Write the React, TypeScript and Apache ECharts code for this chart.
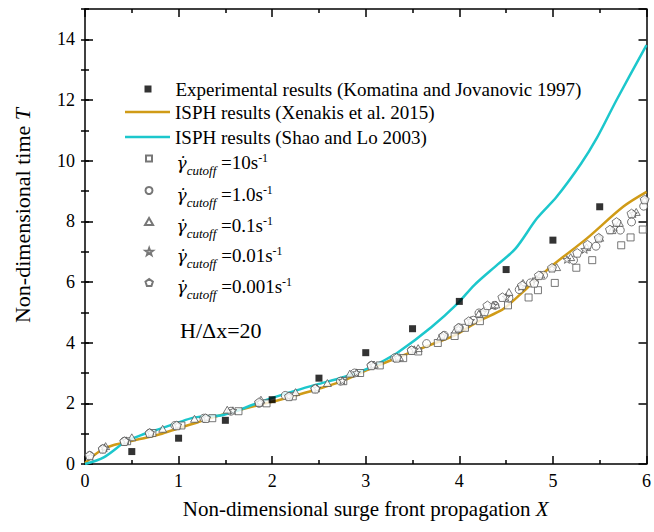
import React, { useEffect, useRef } from "react";
import * as echarts from "echarts";

const FONT = "'Liberation Serif', 'Times New Roman', Times, serif";
const ORANGE = "#D09B17";
const CYAN = "#1CC7CC";
const MARK = "#555555";

// Experimental results (Komatina and Jovanovic 1997)
const expX = [0.5, 1.0, 1.5, 2.0, 2.5, 3.0, 3.5, 4.0, 4.5, 5.0, 5.5];
const expT = [0.41, 0.85, 1.44, 2.12, 2.83, 3.67, 4.46, 5.36, 6.41, 7.38, 8.48];

// ISPH results (Xenakis et al. 2015)
const xenakis: [number, number][] = [
  [0, 0.03], [0.1, 0.3], [0.2, 0.5], [0.3, 0.62], [0.44, 0.72], [0.6, 0.83], [0.8, 0.98],
  [1.0, 1.18], [1.2, 1.37], [1.5, 1.66], [1.75, 1.86], [2.0, 2.05], [2.25, 2.26], [2.5, 2.48],
  [2.75, 2.73], [3.0, 3.08], [3.35, 3.52], [3.65, 3.88], [3.95, 4.24], [4.19, 4.68], [4.46, 5.09],
  [4.55, 5.31], [4.73, 5.82], [5.0, 6.56], [5.36, 7.43], [5.75, 8.48], [6.0, 8.97],
];

// ISPH results (Shao and Lo 2003)
const shaoLo: [number, number][] = [
  [0, 0], [0.2, 0.22], [0.44, 0.75], [0.6, 0.95], [0.8, 1.16], [1.0, 1.37], [1.15, 1.52],
  [1.3, 1.57], [1.45, 1.6], [1.6, 1.73], [1.8, 1.96], [2.0, 2.18], [2.25, 2.42], [2.5, 2.64],
  [2.75, 2.85], [3.0, 3.12], [3.2, 3.42], [3.35, 3.69], [3.7, 4.51], [3.98, 5.29], [4.16, 5.9],
  [4.41, 6.58], [4.6, 7.1], [4.83, 8.1], [5.04, 8.81], [5.3, 9.9], [5.47, 10.75], [5.68, 12.0],
  [6.0, 13.81],
];

// gamma_cutoff = 10 s^-1
const cutoff10: [number, number][] = [
  [0.45, 0.75], [0.72, 1.02], [1.03, 1.27], [1.36, 1.51], [1.64, 1.74], [1.94, 2.0], [2.22, 2.23],
  [2.76, 2.73], [2.94, 3.0], [3.15, 3.25], [3.4, 3.49], [3.56, 3.71], [3.77, 3.99], [3.95, 4.22],
  [4.06, 4.49], [4.22, 4.71], [4.52, 5.23], [4.74, 5.49], [4.84, 5.73], [5.02, 5.97], [5.25, 6.47],
  [5.42, 6.72], [5.73, 7.21], [5.83, 7.47], [5.96, 7.73],
];
// gamma_cutoff = 1.0 s^-1
const cutoff1: [number, number][] = [
  [0.05, 0.28], [0.19, 0.5], [0.42, 0.75], [0.69, 1.02], [0.96, 1.27], [1.27, 1.51], [1.56, 1.74],
  [1.86, 2.0], [2.14, 2.26], [2.46, 2.48], [2.73, 2.73], [2.88, 3.0], [3.06, 3.25], [3.31, 3.5],
  [3.49, 3.75], [3.65, 3.97], [3.84, 4.24], [4.0, 4.49], [4.15, 4.74], [4.21, 4.98], [4.38, 5.23],
  [4.53, 5.47], [4.64, 5.75], [4.76, 5.97], [4.9, 6.22], [5.22, 6.72], [5.46, 7.18], [5.72, 7.71],
  [5.84, 7.98], [5.97, 8.5],
];
// gamma_cutoff = 0.1 s^-1
const cutoff01: [number, number][] = [
  [0.22, 0.59], [0.5, 0.88], [0.83, 1.16], [1.17, 1.49], [1.52, 1.79], [1.88, 2.12], [2.25, 2.37],
  [2.59, 2.67], [2.83, 2.98], [3.09, 3.28], [3.36, 3.52], [3.56, 3.82], [3.8, 4.2], [3.96, 4.43],
  [4.21, 4.96], [4.39, 5.26], [4.53, 5.67], [4.68, 5.97], [4.87, 6.25], [5.04, 6.49], [5.19, 6.82],
  [5.36, 7.15], [5.5, 7.46], [5.63, 7.71], [5.71, 7.95], [5.89, 8.31],
];
// gamma_cutoff = 0.01 s^-1
const cutoff001: [number, number][] = [
  [0.06, 0.25], [0.21, 0.53], [0.44, 0.77], [0.7, 1.03], [0.99, 1.28], [1.3, 1.52], [1.58, 1.76],
  [1.87, 2.03], [2.18, 2.24], [2.48, 2.5], [2.75, 2.75], [2.9, 3.01], [3.08, 3.26], [3.34, 3.51],
  [3.52, 3.77], [3.82, 4.22], [3.99, 4.47], [4.12, 4.73], [4.25, 5.0], [4.36, 5.23], [4.5, 5.5],
  [4.66, 5.85], [4.82, 6.1], [4.99, 6.45], [5.15, 6.74], [5.34, 7.07], [5.49, 7.45], [5.66, 7.8],
  [5.86, 8.25], [5.98, 8.7],
];
// gamma_cutoff = 0.001 s^-1
const cutoff0001: [number, number][] = [
  [0.05, 0.28], [0.19, 0.5], [0.42, 0.75], [0.69, 1.02], [0.98, 1.27], [1.29, 1.51], [1.86, 2.04],
  [2.18, 2.23], [2.46, 2.48], [3.06, 3.25], [3.33, 3.5], [3.49, 3.75], [3.83, 4.23], [3.99, 4.49],
  [4.1, 4.71], [4.27, 5.03], [4.3, 5.23], [4.46, 5.5], [4.67, 5.89], [4.8, 5.97], [4.85, 6.22],
  [4.99, 6.47], [5.26, 6.96], [5.37, 7.23], [5.49, 7.46], [5.61, 7.73], [5.68, 7.98], [5.84, 8.26],
  [5.98, 8.72],
];

const NAME_EXP = "Experimental results (Komatina and Jovanovic 1997)";
const NAME_XEN = "ISPH results (Xenakis et al. 2015)";
const NAME_SHAO = "ISPH results (Shao and Lo 2003)";
const G = "\u03b3\u0307";
const NAME_10 = G + "cutoff =10s-1";
const NAME_1 = G + "cutoff =1.0s-1";
const NAME_01 = G + "cutoff =0.1s-1";
const NAME_001 = G + "cutoff =0.01s-1";
const NAME_0001 = G + "cutoff =0.001s-1";

const gammaLabel: Record<string, string> = {
  [NAME_10]: "{g|" + G + "}{s|cutoff}{n| =10s}{p|-1}",
  [NAME_1]: "{g|" + G + "}{s|cutoff}{n| =1.0s}{p|-1}",
  [NAME_01]: "{g|" + G + "}{s|cutoff}{n| =0.1s}{p|-1}",
  [NAME_001]: "{g|" + G + "}{s|cutoff}{n| =0.01s}{p|-1}",
  [NAME_0001]: "{g|" + G + "}{s|cutoff}{n| =0.001s}{p|-1}",
};

const SQUARE = "path://M0,0H10V10H0Z";
const TRIANGLE = "path://M5,0L10,8.66L0,8.66Z";
const STAR =
  "path://M5,0L6.176,3.382L9.755,3.455L6.902,5.618L7.939,9.045L5,7L2.061,9.045L3.098,5.618L0.245,3.455L3.824,3.382Z";
const PENTAGON = "path://M5,0L9.755,3.455L7.939,9.045L2.061,9.045L0.245,3.455Z";
const CIRCLE = "circle";

export default function App() {
  const ref = useRef<HTMLDivElement>(null);

  useEffect(() => {
    document.body.style.margin = "0";
    if (!ref.current) return;
    const chart = echarts.init(ref.current, undefined, { renderer: "svg" });

    const axisLineStyle = { color: "#000", width: 1.5 };
    const xBase: any = {
      type: "value",
      min: 0,
      max: 6,
      interval: 1,
      splitLine: { show: false },
      axisLine: { show: true, onZero: false, lineStyle: axisLineStyle },
      axisTick: { show: true, inside: true, length: 8, lineStyle: axisLineStyle },
      minorTick: { show: true, splitNumber: 2, length: 4, lineStyle: axisLineStyle },
      minorSplitLine: { show: false },
    };
    const yMajor: any = {
      type: "value",
      min: 0,
      max: 15,
      interval: 2,
      splitLine: { show: false },
      axisLine: { show: true, onZero: false, lineStyle: axisLineStyle },
      axisTick: { show: true, inside: true, length: 8, lineStyle: axisLineStyle },
    };
    const yMinor: any = {
      type: "value",
      min: 0,
      max: 15,
      interval: 1,
      splitLine: { show: false },
      axisLine: { show: false },
      axisLabel: { show: false },
      axisTick: { show: true, inside: true, length: 4, lineStyle: axisLineStyle },
    };
    const tickLabel = { fontFamily: FONT, fontSize: 18, color: "#000" };

    const rich: any = {
      g: { fontFamily: "'DejaVu Serif', serif", fontSize: 17, fontStyle: "italic", color: "#000", padding: [8, 0, 0, 0] },
      s: { fontFamily: FONT, fontSize: 13, fontStyle: "italic", color: "#000", padding: [24, 0, 0, 0] },
      n: { fontFamily: FONT, fontSize: 19, color: "#000", padding: [8, 0, 0, 0] },
      p: { fontFamily: FONT, fontSize: 12, color: "#000", padding: [0, 0, 2, 0] },
    };

    const legendRow = (name: string, left: number, top: number, itemHeight: number, icon: string) => ({
      data: [{ name, icon }],
      left,
      top,
      orient: "vertical",
      padding: 0,
      itemWidth: 45,
      itemHeight,
      selectedMode: false,
      symbolKeepAspect: true,
      textStyle: { fontFamily: FONT, fontSize: 19, color: "#000", rich },
      formatter: (n: string) => gammaLabel[n] ?? n,
    });

    const markStyle = { color: "#fff", borderColor: MARK, borderWidth: 1 };
    const scatter = (name: string, data: [number, number][], symbol: string, size: number) => ({
      name,
      type: "scatter",
      data,
      symbol,
      symbolSize: size,
      symbolKeepAspect: true,
      itemStyle: markStyle,
      z: 4,
    });

    chart.setOption({
      animation: false,
      backgroundColor: "#fff",
      textStyle: { fontFamily: FONT, color: "#000" },
      grid: { left: 85, right: 4, top: 9, bottom: 68, containLabel: false },
      xAxis: [
        {
          ...xBase,
          position: "bottom",
          axisLabel: { ...tickLabel, margin: 8 },
          name: "Non-dimensional surge front propagation {i|X}",
          nameLocation: "middle",
          nameGap: 34,
          nameTextStyle: {
            fontFamily: FONT,
            fontSize: 21,
            color: "#000",
            rich: { i: { fontFamily: FONT, fontSize: 21, fontStyle: "italic", color: "#000" } },
          },
        },
        { ...xBase, position: "top", axisLabel: { show: false } },
      ],
      yAxis: [
        {
          ...yMajor,
          position: "left",
          axisLabel: { ...tickLabel, margin: 10, showMaxLabel: false },
          name: "Non-dimensional time {i|T}",
          nameLocation: "middle",
          nameGap: 52,
          nameTextStyle: {
            fontFamily: FONT,
            fontSize: 22,
            color: "#000",
            padding: [0, 0, 0, 42],
            rich: { i: { fontFamily: FONT, fontSize: 22, fontStyle: "italic", color: "#000" } },
          },
        },
        { ...yMajor, position: "right", axisLabel: { show: false } },
        { ...yMinor, position: "left" },
        { ...yMinor, position: "right" },
      ],
      legend: [
        legendRow(NAME_EXP, 144.5, 79.5, 7, SQUARE),
        legendRow(NAME_XEN, 125, 102.5, 2.5, "rect"),
        legendRow(NAME_SHAO, 125, 127.5, 2.5, "rect"),
        legendRow(NAME_10, 145, 151.5, 6, SQUARE),
        legendRow(NAME_1, 144.5, 183.5, 7, CIRCLE),
        legendRow(NAME_01, 144, 214.5, 7, TRIANGLE),
        legendRow(NAME_001, 144.5, 244.5, 7, STAR),
        legendRow(NAME_0001, 144.5, 275.5, 7, PENTAGON),
      ],
      graphic: [
        {
          type: "text",
          left: 180,
          top: 319,
          style: { text: "H/\u0394x=20", fontFamily: FONT, fontSize: 22, fill: "#000" },
        },
      ],
      series: [
        {
          name: NAME_XEN,
          type: "line",
          data: xenakis,
          symbol: "none",
          showSymbol: false,
          smooth: 0.3,
          lineStyle: { color: ORANGE, width: 2.5 },
          itemStyle: { color: ORANGE },
          z: 2,
        },
        {
          name: NAME_SHAO,
          type: "line",
          data: shaoLo,
          symbol: "none",
          showSymbol: false,
          smooth: 0.3,
          lineStyle: { color: CYAN, width: 2.5 },
          itemStyle: { color: CYAN },
          z: 2,
        },
        scatter(NAME_10, cutoff10, SQUARE, 7),
        scatter(NAME_1, cutoff1, CIRCLE, 8),
        scatter(NAME_01, cutoff01, TRIANGLE, 8),
        scatter(NAME_001, cutoff001, STAR, 8),
        scatter(NAME_0001, cutoff0001, PENTAGON, 9),
        {
          name: NAME_EXP,
          type: "scatter",
          data: expX.map((x, i) => [x, expT[i]]),
          symbol: SQUARE,
          symbolSize: 7,
          symbolKeepAspect: true,
          itemStyle: { color: "#000" },
          z: 5,
        },
      ],
    });

    return () => chart.dispose();
  }, []);

  return <div ref={ref} style={{ width: 654, height: 532 }} />;
}
